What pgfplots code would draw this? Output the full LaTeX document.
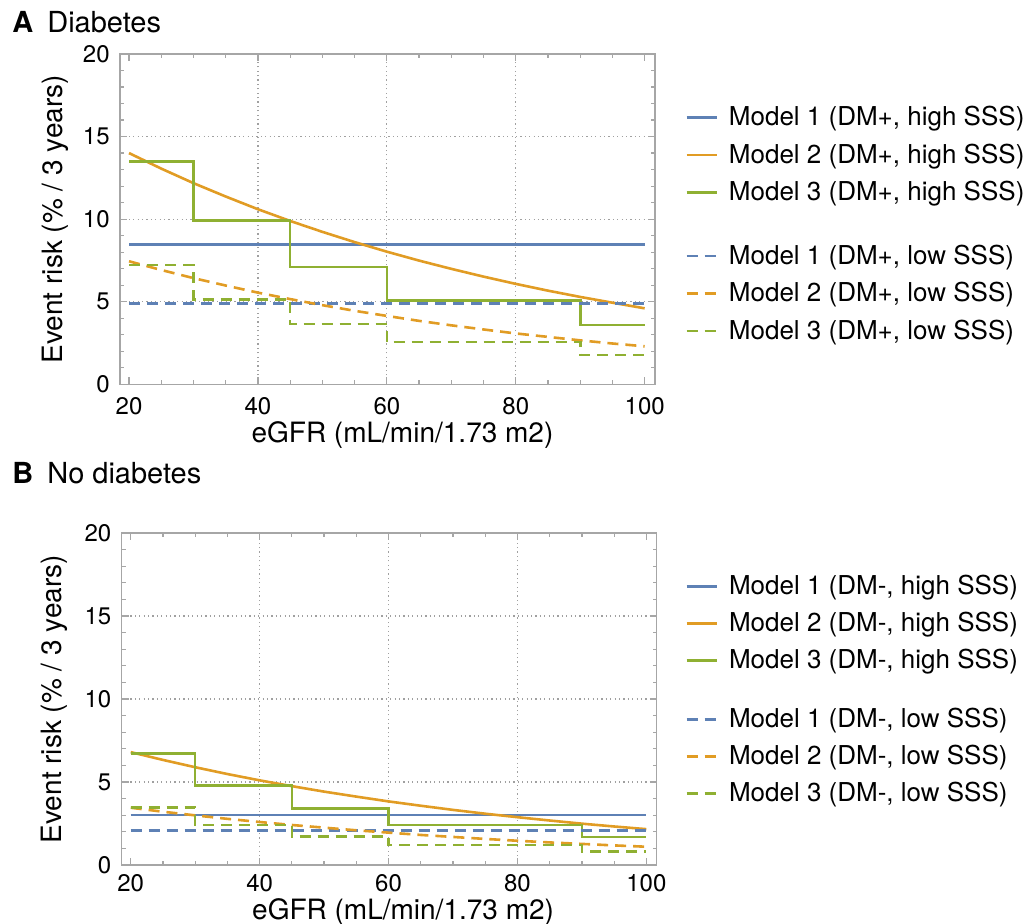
\documentclass[border=0pt]{standalone}
\usepackage{fontspec}
\setmainfont{TeX Gyre Heros}
\usepackage{pgfplots}
\pgfplotsset{compat=1.18}
\definecolor{mone}{HTML}{5E81B5}
\definecolor{mtwo}{HTML}{E19C24}
\definecolor{mthree}{HTML}{8FB032}
\definecolor{framec}{HTML}{A6A6A6}
\definecolor{gridc}{HTML}{A0A0A0}

\pgfplotsset{
  risk/.style={
    scale only axis, width=267.5pt,
    xmin=18.6, xmax=101.6, ymin=0, ymax=20,
    xtick={20,40,60,80,100}, ytick={0,5,10,15,20},
    minor x tick num=3, minor y tick num=4,
    tick align=inside,
    major tick length=3.5pt, minor tick length=2pt,
    axis line style={framec, line width=0.7pt},
    tick style={framec, line width=0.6pt},
    extra x ticks={40,60,80}, extra x tick labels={},
    extra y ticks={5,10,15}, extra y tick labels={},
    extra x tick style={grid=major},
    extra y tick style={grid=major},
    major grid style={gridc, line width=0.6pt, dash pattern=on 0.6pt off 1.6pt},
    /pgf/number format/assume math mode=true,
    ticklabel style={font=\fontsize{12}{14}\selectfont, inner sep=0pt},
    xticklabel style={anchor=north, yshift=-6.3pt},
    yticklabel style={anchor=east, xshift=-5pt},
    label style={font=\fontsize{14}{16}\selectfont},
    xlabel={eGFR (mL/min/1.73 m2)},
    ylabel={Event risk (\% / 3 years)},
    legend style={draw=none, fill=none, inner sep=0pt, anchor=north west,
      column sep=4pt, nodes={inner sep=1.5pt},
      font=\fontsize{13}{15}\selectfont},
    legend cell align=left,
    legend image code/.code={\draw[#1] (0pt,0pt) -- (15pt,0pt);},
  },
  hi/.style={line width=1.3pt, solid},
  lo/.style={line width=1.3pt, dash pattern=on 5.5pt off 3.5pt},
}

\begin{document}
\begin{tikzpicture}
\path[use as bounding box] (0,0) rectangle (517.5pt,-462pt);

% panel titles
\node[anchor=base west, inner sep=0pt, font=\fontsize{14.5}{16}\selectfont] at (6pt,-16.5pt) {\textbf{A}\hspace{7pt}Diabetes};
\node[anchor=base west, inner sep=0pt, font=\fontsize{14.5}{16}\selectfont] at (6pt,-242pt) {\textbf{B}\hspace{7pt}No diabetes};

% A: diabetes
\begin{axis}[risk, at={(60pt,-192.15pt)}, anchor=south west, height=165.15pt,
  xlabel style={at={(axis description cs:0.528,-0.1777)}, anchor=base},
  ylabel style={at={(axis description cs:-0.1084,0.5)}, anchor=base, rotate=0},
  legend style={at={(axis description cs:1.056,0.852)}, row sep=4.5pt}]
  \addplot[hi, mone] coordinates {(20,8.45) (100,8.45)};
  \addlegendentry{Model 1 (DM+, high SSS)}
  \addplot[hi, mtwo] coordinates {(20,14.00) (25,13.06) (30,12.18) (35,11.37) (40,10.60) (45,9.89) (50,9.23) (55,8.61) (60,8.03) (65,7.49) (70,6.99) (75,6.52) (80,6.08) (85,5.67) (90,5.29) (95,4.94) (100,4.60)};
  \addlegendentry{Model 2 (DM+, high SSS)}
  \addplot[hi, mthree] coordinates {(20,13.48) (30,13.48) (30,9.90) (45,9.90) (45,7.11) (60,7.11) (60,5.07) (90,5.07) (90,3.58) (100,3.58)};
  \addlegendentry{Model 3 (DM+, high SSS)}
  \addlegendimage{empty legend}
  \addlegendentry{\rule{0pt}{4.2pt}}
  \addplot[lo, mone] coordinates {(20,4.91) (100,4.91)};
  \addlegendentry{Model 1 (DM+, low SSS)}
  \addplot[lo, mtwo] coordinates {(20,7.45) (25,6.92) (30,6.43) (35,5.98) (40,5.55) (45,5.16) (50,4.79) (55,4.45) (60,4.14) (65,3.84) (70,3.57) (75,3.32) (80,3.08) (85,2.87) (90,2.66) (95,2.47) (100,2.30)};
  \addlegendentry{Model 2 (DM+, low SSS)}
  \addplot[lo, mthree] coordinates {(20,7.23) (30,7.23) (30,5.15) (45,5.15) (45,3.64) (60,3.64) (60,2.55) (90,2.55) (90,1.78) (100,1.78)};
  \addlegendentry{Model 3 (DM+, low SSS)}
\end{axis}

% B: no diabetes
\begin{axis}[risk, at={(60.85pt,-432.5pt)}, anchor=south west, height=166pt,
  xticklabel style={yshift=2pt},
  xlabel style={at={(axis description cs:0.526,-0.1627)}, anchor=base},
  ylabel style={at={(axis description cs:-0.1116,0.5)}, anchor=base, rotate=0},
  legend style={at={(axis description cs:1.053,0.8825)}, row sep=4.3pt}]
  \addplot[hi, mone] coordinates {(20,3.02) (100,3.02)};
  \addlegendentry{Model 1 (DM-, high SSS)}
  \addplot[hi, mtwo] coordinates {(20,6.80) (25,6.33) (30,5.89) (35,5.48) (40,5.10) (45,4.75) (50,4.42) (55,4.12) (60,3.83) (65,3.57) (70,3.32) (75,3.09) (80,2.88) (85,2.68) (90,2.49) (95,2.32) (100,2.16)};
  \addlegendentry{Model 2 (DM-, high SSS)}
  \addplot[hi, mthree] coordinates {(20,6.71) (30,6.71) (30,4.79) (45,4.79) (45,3.42) (60,3.42) (60,2.40) (90,2.40) (90,1.69) (100,1.69)};
  \addlegendentry{Model 3 (DM-, high SSS)}
  \addlegendimage{empty legend}
  \addlegendentry{\rule{0pt}{2.2pt}}
  \addplot[lo, mone] coordinates {(20,2.07) (100,2.07)};
  \addlegendentry{Model 1 (DM-, low SSS)}
  \addplot[lo, mtwo] coordinates {(20,3.45) (25,3.21) (30,2.99) (35,2.78) (40,2.59) (45,2.41) (50,2.25) (55,2.09) (60,1.95) (65,1.81) (70,1.69) (75,1.57) (80,1.46) (85,1.36) (90,1.27) (95,1.18) (100,1.10)};
  \addlegendentry{Model 2 (DM-, low SSS)}
  \addplot[lo, mthree] coordinates {(20,3.47) (30,3.47) (30,2.42) (45,2.42) (45,1.71) (60,1.71) (60,1.21) (90,1.21) (90,0.80) (100,0.80)};
  \addlegendentry{Model 3 (DM-, low SSS)}
\end{axis}
\end{tikzpicture}
\end{document}
